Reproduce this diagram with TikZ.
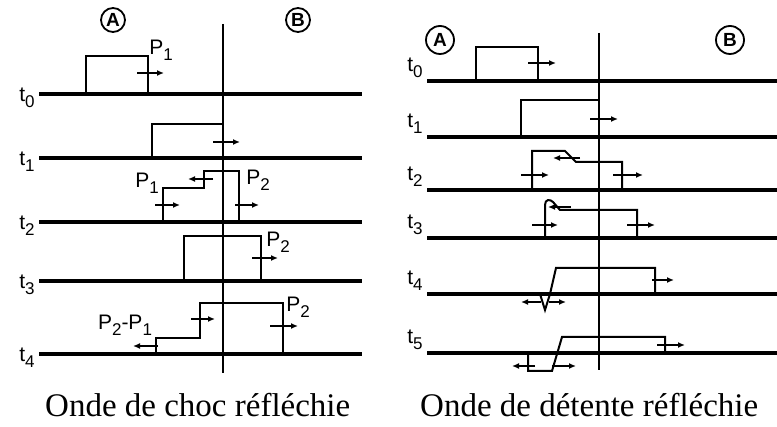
\documentclass[tikz,border=0pt]{standalone}
\usepackage{fontspec}
\setmainfont{Liberation Serif}
\setsansfont{Liberation Sans}
\usetikzlibrary{arrows.meta}
\tikzstyle{axe} = [line width=3.2pt]
\tikzstyle{paroi} = [line width=1.4pt]
\tikzstyle{onde} = [line width=2pt, line join=miter]
\tikzstyle{sens} = [line width=1.5pt, -{Latex[length=7pt,width=6pt]}]
\tikzstyle{zone} = [circle, draw, line width=1.8pt, inner sep=0pt, font=\sffamily\bfseries\fontsize{19}{19}\selectfont]
\tikzstyle{temps} = [font=\sffamily\fontsize{21}{21}\selectfont]
\tikzstyle{pression} = [font=\sffamily\fontsize{21}{21}\selectfont]
\tikzstyle{legende} = [font=\fontsize{33}{36}\selectfont, anchor=base west, inner sep=0pt]
\newcommand{\ind}[2]{#1\raisebox{-0.3em}{\fontsize{17}{17}\selectfont #2}}

\begin{document}
\begin{tikzpicture}[x=1pt, y=-1pt]
\useasboundingbox (0,0) rectangle (777,427);

% onde de choc reflechie
\node[zone, minimum size=24pt] (zoneAg) at (113,20) {A};
\node[zone, minimum size=24pt] (zoneBg) at (298,20) {B};
\draw[paroi] (223,24) -- (223,373);
\foreach \y/\k in {94/0,158/1,222/2,281/3,354/4} {
  \draw[axe] (39,\y) -- (362,\y);
  \node[temps] (tg\k) at (27,\y+4) {\ind{t}{\k}};
}
% t0
\draw[onde] (86,94) -- (86,56) -- (148,56) -- (148,94);
\draw[sens] (137,73) -- (164,73);
\node[pression] (pg0) at (161,50) {\ind{P}{1}};
% t1
\draw[onde] (152,158) -- (152,124) -- (223,124);
\draw[sens] (213,142) -- (240,142);
% t2
\draw[onde] (163,222) -- (163,188) -- (204,188) -- (204,171) -- (239,171) -- (239,222);
\draw[sens] (213,179) -- (188,179);
\draw[sens] (155,205) -- (180,205);
\draw[sens] (235,205) -- (259,205);
\node[pression] (pg1) at (147,183) {\ind{P}{1}};
\node[pression] (pg2) at (258,180) {\ind{P}{2}};
% t3
\draw[onde] (184,281) -- (184,236) -- (261,236) -- (261,281);
\draw[sens] (252,258) -- (278,258);
\node[pression] (pg3) at (278,242) {\ind{P}{2}};
% t4
\draw[onde] (156,354) -- (156,338) -- (200,338) -- (200,303) -- (283,303) -- (283,354);
\draw[sens] (158,346) -- (133,346);
\draw[sens] (191,319) -- (215,319);
\draw[sens] (270,326) -- (298,326);
\node[pression] (pg4) at (125,325) {\ind{P}{2}-\ind{P}{1}};
\node[pression] (pg5) at (298,307) {\ind{P}{2}};

% onde de detente reflechie
\node[zone, minimum size=28pt] (zoneAd) at (440,40) {A};
\node[zone, minimum size=28pt] (zoneBd) at (730,40) {B};
\draw[paroi] (599,33) -- (599,370);
\foreach \y/\k in {81/0,137/1,190/2,238/3,294/4,353/5} {
  \draw[axe] (427,\y) -- (777,\y);
  \node[temps] (td\k) at (415,\y-13) {\ind{t}{\k}};
}
% t0
\draw[onde] (476,81) -- (476,47) -- (538,47) -- (538,81);
\draw[sens] (528,63) -- (556,63);
% t1
\draw[onde] (521,137) -- (521,100) -- (599,100);
\draw[sens] (590,119) -- (618,119);
% t2
\draw[onde] (532,190) -- (532,151) -- (565,151) -- (576,162) -- (622,162) -- (622,190);
\draw[sens] (580,158) -- (553,158);
\draw[sens] (521,175) -- (549,175);
\draw[sens] (613,175) -- (643,175);
% t3
\draw[onde] (545,238) -- (545,205) .. controls (545,199) and (550,199) .. (553,202) -- (560,210) -- (637,210) -- (637,238);
\draw[sens] (571,207) -- (548,207);
\draw[sens] (532,225) -- (558,225);
\draw[sens] (627,225) -- (655,225);
% t4
\draw[onde] (540,294) -- (545,310) -- (550,294) -- (556,268) -- (655,268) -- (655,294);
\draw[sens] (541,302) -- (521,302);
\draw[sens] (549,302) -- (566,302);
\draw[sens] (652,280) -- (674,280);
% t5
\draw[onde] (528,353) -- (528,371) -- (552,371) -- (562,337) -- (665,337) -- (665,353);
\draw[sens] (535,366) -- (512,366);
\draw[sens] (552,366) -- (576,366);
\draw[sens] (657,345) -- (685,345);

\node[legende] (legchoc) at (45,417) {Onde de choc réfléchie};
\node[legende] (legdetente) at (420,417) {Onde de détente réfléchie};
\end{tikzpicture}
\end{document}
